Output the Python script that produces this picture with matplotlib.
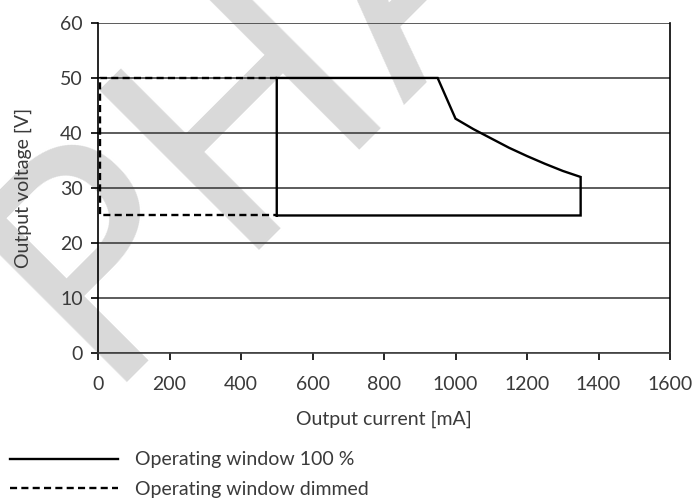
import matplotlib
matplotlib.use('Agg')
import matplotlib.pyplot as plt

# --- data ---
# operating window at 100 % (closed outline)
full_current = [500, 500, 950, 1000, 1050, 1100, 1150, 1200, 1250, 1300, 1350, 1350, 500]
full_voltage = [25, 50, 50, 42.6, 40.7, 39.0, 37.3, 35.8, 34.4, 33.1, 32.0, 25, 25]

# dimmed operating window (open outline, right edge shared with the 100 % window)
dim_current = [500, 5, 5, 500]
dim_voltage = [50, 50, 25, 25]

x_ticks = [0, 200, 400, 600, 800, 1000, 1200, 1400, 1600]
y_ticks = [0, 10, 20, 30, 40, 50, 60]

labels = ['Operating window 100 %', 'Operating window dimmed']

plt.rcParams['font.family'] = ['Lato', 'DejaVu Sans']
text_color = '#3a3a3a'
grid_color = '#404040'
fs = 14

fig = plt.figure(figsize=(6.97, 4.98), dpi=100, facecolor='white')
ax = fig.add_axes([0.1406, 0.2912, 0.8207, 0.6627])
ax.set_facecolor('none')

# watermark behind everything (mostly cut off by the canvas)
fig.text(0.152, 0.1908, 'PHASE OUT', rotation=45, rotation_mode='anchor',
         ha='left', va='baseline', fontsize=223, color='#d9d9d9',
         family='DejaVu Sans', zorder=-10)

line_full, = ax.plot(full_current, full_voltage, color='black', lw=1.7,
                     solid_joinstyle='miter', label=labels[0], zorder=3)
line_dim, = ax.plot(dim_current, dim_voltage, color='black', lw=1.7,
                    linestyle=(0, (3, 1.8)), label=labels[1], zorder=3)

ax.set_xlim(0, 1600)
ax.set_ylim(0, 60)
ax.set_xticks(x_ticks)
ax.set_yticks(y_ticks)
ax.yaxis.grid(True, color=grid_color, lw=1.2)
ax.set_axisbelow(True)

ax.spines['top'].set_visible(False)
for side in ('left', 'right'):
    ax.spines[side].set_color('black')
    ax.spines[side].set_linewidth(1.2)
ax.spines['bottom'].set_color(grid_color)
ax.spines['bottom'].set_linewidth(1.2)

ax.tick_params(axis='both', direction='out', length=5, width=1.2,
               labelsize=fs, labelcolor=text_color, color='black')
ax.tick_params(axis='x', pad=11.5)
ax.tick_params(axis='y', pad=6)

ax.set_xlabel('Output current [mA]', fontsize=fs, color=text_color, labelpad=13)
ax.set_ylabel('Output voltage [V]', fontsize=fs, color=text_color, labelpad=20)

# legend sits under the x label, at the bottom left of the figure
ax.legend(handles=[line_full, line_dim], loc='upper left',
          bbox_to_anchor=(0.0143, 0.0934), bbox_transform=fig.transFigure,
          frameon=False, handlelength=5.56, handletextpad=0.88, labelspacing=0.62,
          borderpad=0, borderaxespad=0, fontsize=fs, labelcolor=text_color)

fig.savefig('out.png', dpi=100, facecolor='white')
